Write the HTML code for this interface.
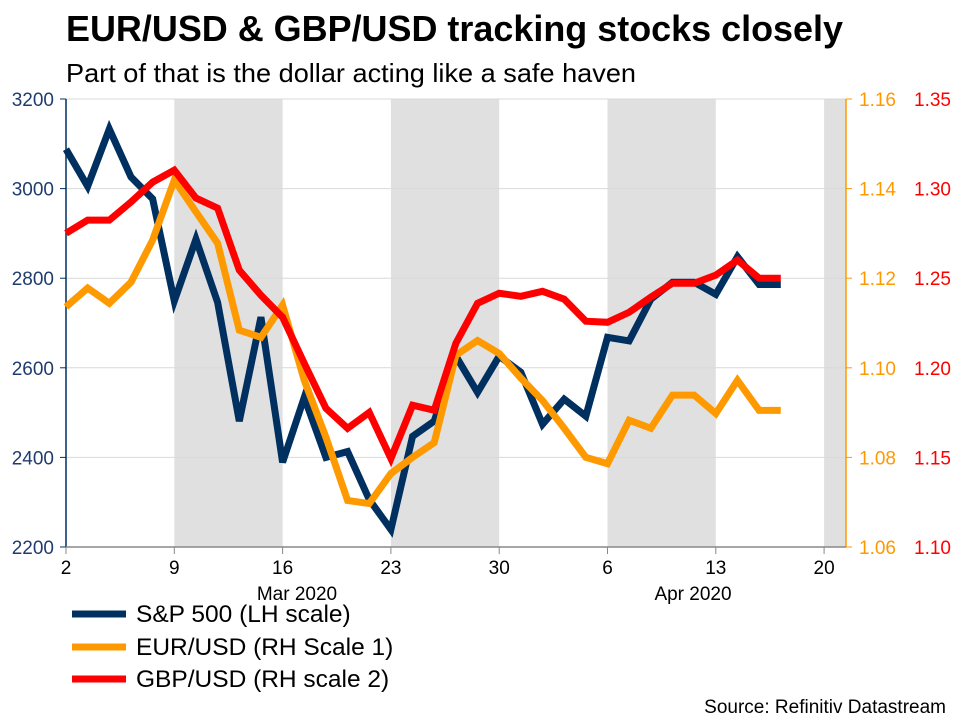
<!DOCTYPE html>
<html><head><meta charset="utf-8"><style>
body{margin:0;background:#fff;width:960px;height:720px;overflow:hidden;font-family:"Liberation Sans",sans-serif}
</style></head><body>
<svg id="chart" width="960" height="720" xmlns="http://www.w3.org/2000/svg" font-family="Liberation Sans, sans-serif">
<text x="66" y="41" font-size="36" font-weight="bold" fill="#000" textLength="777" lengthAdjust="spacingAndGlyphs">EUR/USD &amp; GBP/USD tracking stocks closely</text>
<text x="66" y="82" font-size="26" fill="#000" textLength="570" lengthAdjust="spacingAndGlyphs">Part of that is the dollar acting like a safe haven</text>
<g id="bands"></g><g id="grid"></g><g id="axes"></g><g id="series"></g>
<g>
<line x1="72" y1="614" x2="126" y2="614" stroke="#003060" stroke-width="7"/>
<text x="136" y="622" font-size="24.5">S&amp;P 500 (LH scale)</text>
<line x1="72" y1="647" x2="126" y2="647" stroke="#ff9900" stroke-width="7"/>
<text x="136" y="655" font-size="24.5">EUR/USD (RH Scale 1)</text>
<line x1="72" y1="679" x2="126" y2="679" stroke="#ff0000" stroke-width="7"/>
<text x="136" y="687" font-size="24.5">GBP/USD (RH scale 2)</text>
</g>
<text x="946" y="713" font-size="19" text-anchor="end">Source: Refinitiv Datastream</text>
</svg>
<script>
const spx=[3088,3005,3133,3026,2977,2749,2887,2746,2481,2713,2389,2534,2400,2413,2306,2239,2447,2481,2626,2545,2626,2590,2474,2530,2492,2668,2660,2753,2791,2791,2764,2848,2786,2786];
const eur=[1.1136,1.1178,1.1144,1.1191,1.1285,1.1419,1.1348,1.1278,1.1084,1.1068,1.1140,1.0972,1.0845,1.0704,1.0697,1.0764,1.0800,1.0833,1.1028,1.1061,1.1032,1.0977,1.0927,1.0865,1.0800,1.0786,1.0883,1.0865,1.0939,1.0939,1.0898,1.0972,1.0905,1.0905];
const gbp=[1.2751,1.2824,1.2824,1.2925,1.3036,1.3103,1.2947,1.2891,1.2545,1.2405,1.2282,1.2025,1.1774,1.1662,1.1751,1.1494,1.1791,1.1763,1.2137,1.2360,1.2416,1.2399,1.2427,1.2383,1.2260,1.2254,1.2310,1.2394,1.2472,1.2472,1.2517,1.2601,1.2500,1.2500];
const xTickLabels=["2","9","16","23","30","6","13","20"];
const leftTicks=[2200,2400,2600,2800,3000,3200];
const r1Ticks=[1.06,1.08,1.10,1.12,1.14,1.16];
const r2Ticks=[1.10,1.15,1.20,1.25,1.30,1.35];
const X0=66,STEP=21.66,TOP=99,BOT=547,RIGHT=846;
const x=i=>X0+i*STEP;
const yL=v=>BOT-(v-2200)/1000*(BOT-TOP);
const yR1=v=>BOT-(v-1.06)/0.10*(BOT-TOP);
const yR2=v=>BOT-(v-1.10)/0.25*(BOT-TOP);
const NS="http://www.w3.org/2000/svg";
function mk(parent,tag,attrs){const e=document.createElementNS(NS,tag);for(const k in attrs)e.setAttribute(k,attrs[k]);document.getElementById(parent).appendChild(e);return e;}
[[5,10],[15,20],[25,30],[35,36]].forEach(b=>{
 const r=mk('bands','rect',{x:x(b[0]),y:TOP,width:Math.min(x(b[1]),RIGHT)-x(b[0]),height:BOT-TOP,fill:'#e0e0e0'});
 
 
});
leftTicks.forEach((v,k)=>{
 if(k>0){const g=mk('grid','line',{x1:X0,x2:RIGHT,y1:yL(v),y2:yL(v),stroke:'#d9d9d9','stroke-width':1});
 
 }
 const t=mk('axes','text',{x:54,y:yL(v)+7,'font-size':19,fill:'#1f3c6e','text-anchor':'end'});t.textContent=v;
 
 
 mk('axes','line',{x1:60,x2:66,y1:yL(v),y2:yL(v),stroke:'#003060'});
});
r1Ticks.forEach(v=>{
 const t=mk('axes','text',{x:859,y:yR1(v)+7,'font-size':19,fill:'#ff9900'});t.textContent=v.toFixed(2);
 
 
 mk('axes','line',{x1:846,x2:852,y1:yR1(v),y2:yR1(v),stroke:'#ff9900'});
});
r2Ticks.forEach(v=>{
 const t=mk('axes','text',{x:914,y:yR2(v)+7,'font-size':19,fill:'#ff0000'});t.textContent=v.toFixed(2);
 
 
});
mk('axes','line',{x1:66,x2:66,y1:TOP,y2:BOT,stroke:'#003060','stroke-width':1.5});
mk('axes','line',{x1:846,x2:846,y1:TOP,y2:BOT,stroke:'#ff9900','stroke-width':1.5});
mk('axes','line',{x1:66,x2:846,y1:BOT,y2:BOT,stroke:'#888','stroke-width':1.5});
xTickLabels.forEach((l,k)=>{
 const xx=x(k*5);
 mk('axes','line',{x1:xx,x2:xx,y1:BOT,y2:BOT+7,stroke:'#888'});
 const t=mk('axes','text',{x:xx,y:574,'font-size':19,'text-anchor':'middle'});t.textContent=l;
 
 
});
[["Mar 2020",297],["Apr 2020",693]].forEach(m=>{
 const t=mk('axes','text',{x:m[1],y:600,'font-size':19,'text-anchor':'middle'});t.textContent=m[0];
 
 
});
function line(arr,yf,color,name){
 const p=mk('series','polyline',{points:arr.map((v,i)=>x(i)+','+yf(v)).join(' '),fill:'none',stroke:color,'stroke-width':7,'stroke-linejoin':'miter'});
 
 
}
line(spx,yL,'#003060','sp500-line');
line(eur,yR1,'#ff9900','eurusd-line');
line(gbp,yR2,'#ff0000','gbpusd-line');
</script>
</body></html>
